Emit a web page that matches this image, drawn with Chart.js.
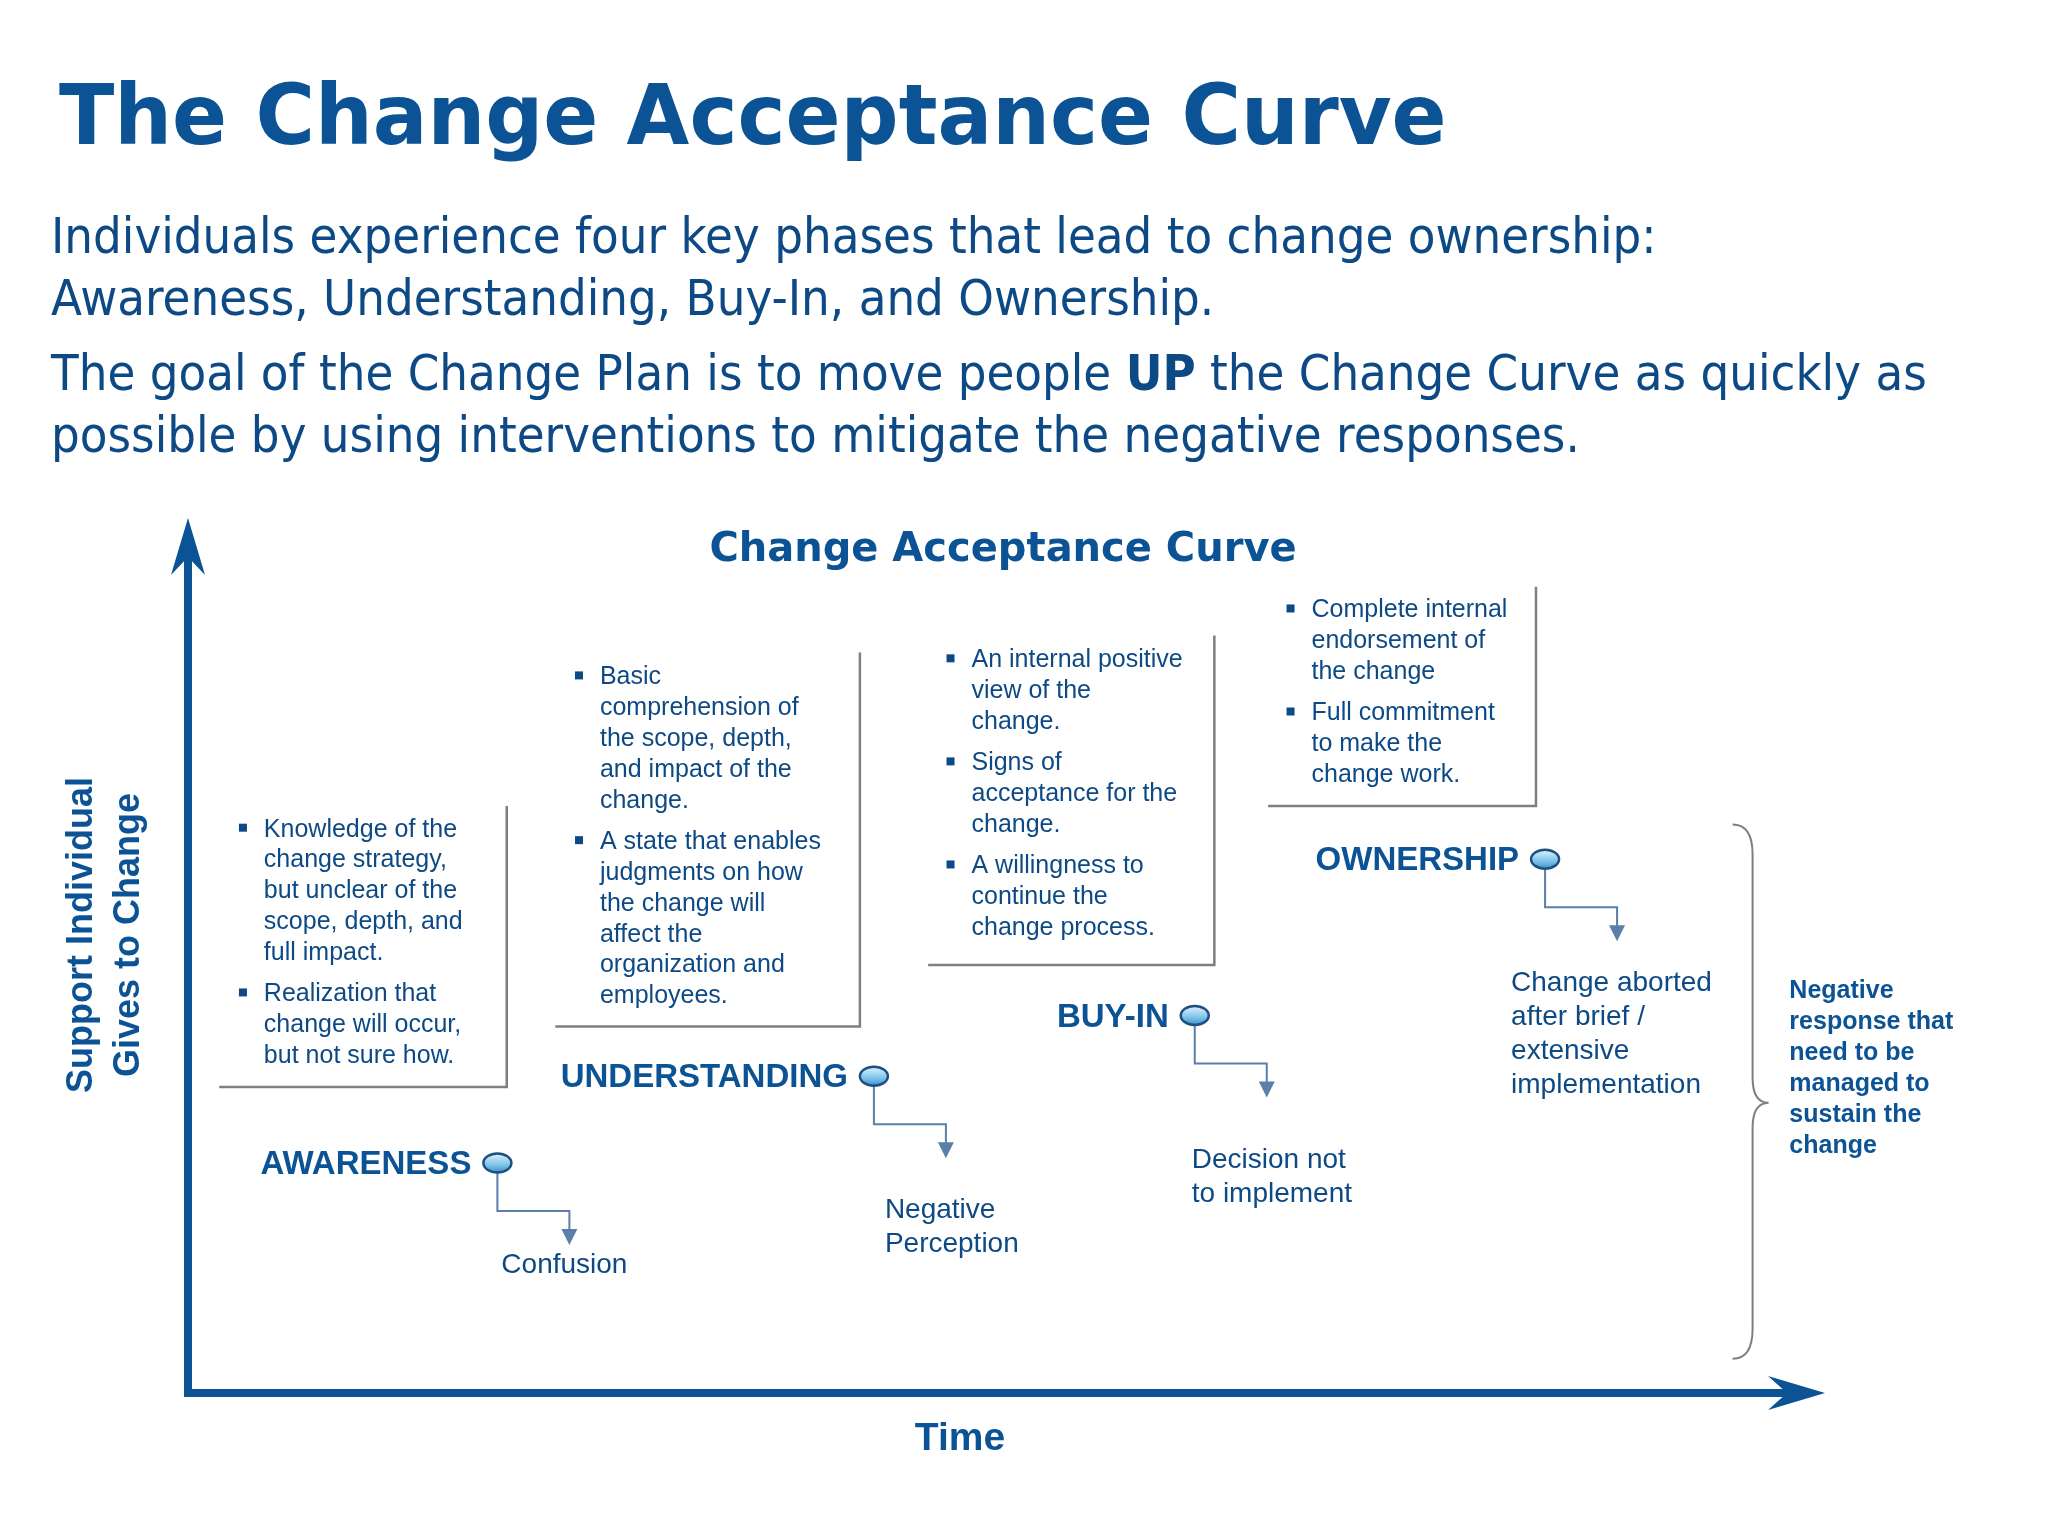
<!DOCTYPE html>
<html><head><meta charset="utf-8">
<script src="https://cdn.jsdelivr.net/npm/chart.js@4.4.1/dist/chart.umd.min.js"></script>
<style>html,body{margin:0;padding:0;background:#fff}#c{display:block}</style>
</head><body>
<canvas id="c" width="2048" height="1536"></canvas>
<script>
const phases = ["AWARENESS","UNDERSTANDING","BUY-IN","OWNERSHIP"];
const timeValues = [1.89, 4.19, 6.15, 8.29];
const supportValues = [2.65, 3.65, 4.35, 6.15];
const negatives = [["Confusion"],["Negative","Perception"],["Decision not","to implement"],["Change aborted","after brief /","extensive","implementation"]];
const boxTexts = [
 [["Knowledge of the","change strategy,","but unclear of the","scope, depth, and","full impact."],["Realization that","change will occur,","but not sure how."]],
 [["Basic","comprehension of","the scope, depth,","and impact of the","change."],["A state that enables","judgments on how","the change will","affect the","organization and","employees."]],
 [["An internal positive","view of the","change."],["Signs of","acceptance for the","change."],["A willingness to","continue the","change process."]],
 [["Complete internal","endorsement of","the change"],["Full commitment","to make the","change work."]]
];
const S = 1.3128;
const BLUE = "#0b5394", DARK="#0d4a85", GREY="#7f7f7f", CONN="#5b7fa8";
const boxes = [[167,614,828,386,201,632],[423,497,782,655,457,516],[707,484,735,925,740,503],[966,447,614,1170,999,465]];

function fitText(c,txt,x,y,targetW){
  const w=c.measureText(txt).width, f=targetW/w;
  c.save(); c.translate(x,y); c.scale(f,1); c.fillText(txt,0,0); c.restore(); return f;
}
const deco = {
 id:'deco',
 afterDraw(chart){
  const c=chart.ctx, a=chart.chartArea;
  c.save();
  c.fillStyle=BLUE; c.textBaseline='middle';
  c.font='bold 84px "DejaVu Sans", Verdana, sans-serif';
  fitText(c,"The Change Acceptance Curve",59,122,(1103-46)*S);
  c.fillStyle=DARK;
  c.font='50px "DejaVu Sans", Verdana, sans-serif';
  const l1="Individuals experience four key phases that lead to change ownership:";
  const f=(1262-39)*S/c.measureText(l1).width;
  c.save(); c.translate(51,0); c.scale(f,1);
  c.fillText(l1,0,240);
  c.fillText("Awareness, Understanding, Buy-In, and Ownership.",0,302);
  let t1="The goal of the Change Plan is to move people ";
  c.fillText(t1,0,377); let w=c.measureText(t1).width;
  c.font='bold 50px "DejaVu Sans", Verdana, sans-serif'; c.fillText("UP",w,377);
  let w2=c.measureText("UP").width;
  c.font='50px "DejaVu Sans", Verdana, sans-serif';
  c.fillText(" the Change Curve as quickly as",w+w2,377);
  c.fillText("possible by using interventions to mitigate the negative responses.",0,439);
  c.restore();
  c.fillStyle=BLUE; c.textAlign='center';
  c.font='bold 40px "DejaVu Sans", Verdana, sans-serif';
  c.fillText("Change Acceptance Curve",1003,551);
  c.font='bold 39px "Liberation Sans", Arial, sans-serif';
  c.fillText("Time",960,1439);
  c.save(); c.translate(82,935); c.rotate(-Math.PI/2);
  c.font='bold 36px "Liberation Sans", Arial, sans-serif';
  c.fillText("Support Individual",0,0); c.fillText("Gives to Change",0,47); c.restore();
  c.strokeStyle=BLUE; c.lineWidth=8; c.lineCap='butt';
  c.beginPath(); c.moveTo(a.left,a.top+20); c.lineTo(a.left,a.bottom); c.lineTo(a.right-20,a.bottom); c.stroke();
  c.fillStyle=BLUE;
  c.beginPath(); c.moveTo(a.left,a.top-7); c.lineTo(a.left+17,a.top+50); c.lineTo(a.left,a.top+32); c.lineTo(a.left-17,a.top+50); c.closePath(); c.fill();
  c.beginPath(); c.moveTo(a.right,a.bottom); c.lineTo(a.right-57,a.bottom+17); c.lineTo(a.right-38,a.bottom); c.lineTo(a.right-57,a.bottom-17); c.closePath(); c.fill();
  c.textAlign='left'; c.textBaseline='middle';
  boxes.forEach((b,i)=>{
   c.strokeStyle=GREY; c.lineWidth=2.5;
   c.beginPath(); c.moveTo(b[3]*S,b[1]*S); c.lineTo(b[3]*S,b[2]*S); c.lineTo(b[0]*S,b[2]*S); c.stroke();
   let y=b[5]*S; c.font='25px "Liberation Sans", Arial, sans-serif'; c.fillStyle=DARK;
   boxTexts[i].forEach(bul=>{
     c.fillRect((b[4]-19)*S,y-6,8,8);
     bul.forEach(l=>{c.fillText(l,b[4]*S,y); y+=23.5*S;});
     y+=8*S;
   });
  });
  const meta=chart.getDatasetMeta(0);
  meta.data.forEach((p,i)=>{
   const x=p.x,y=p.y;
   c.strokeStyle=CONN; c.lineWidth=2;
   c.beginPath(); c.moveTo(x,y); c.lineTo(x,y+48); c.lineTo(x+72,y+48); c.lineTo(x+72,y+68); c.stroke();
   c.fillStyle=CONN; c.beginPath(); c.moveTo(x+64,y+66); c.lineTo(x+80,y+66); c.lineTo(x+72,y+82); c.closePath(); c.fill();
   const g=c.createLinearGradient(0,y-10,0,y+10); g.addColorStop(0,'#e6f4fc'); g.addColorStop(0.6,'#7cc3ea'); g.addColorStop(1,'#3d8fc4');
   c.fillStyle=g; c.strokeStyle='#1f4f7f'; c.lineWidth=2.5;
   c.beginPath(); c.ellipse(x,y,14,9.5,0,0,Math.PI*2); c.fill(); c.stroke();
   c.fillStyle=BLUE; c.textAlign='right'; c.font='bold 33px "Liberation Sans", Arial, sans-serif';
   c.fillText(phases[i],x-26,y+2);
   c.fillStyle=DARK; c.font='28px "Liberation Sans", Arial, sans-serif';
   const n=negatives[i];
   if(i===0){c.textAlign='center'; c.fillText(n[0],x+67,y+102);}
   else if(i===3){c.textAlign='left'; n.forEach((l,k)=>c.fillText(l,x-34,y+124+k*34));}
   else {c.textAlign='left'; n.forEach((l,k)=>c.fillText(l,x+ (i===1?11:-3),y+(i===1?134:145)+k*34));}
  });
  c.strokeStyle=GREY; c.lineWidth=2;
  const bx=1335*S, t=628*S, bt=1035*S, m=840*S;
  c.beginPath(); c.moveTo(bx-20,t); c.quadraticCurveTo(bx,t,bx,t+30); c.lineTo(bx,m-25); c.quadraticCurveTo(bx,m,bx+16,m);
  c.moveTo(bx+16,m); c.quadraticCurveTo(bx,m,bx,m+25); c.lineTo(bx,bt-30); c.quadraticCurveTo(bx,bt,bx-20,bt); c.stroke();
  c.fillStyle=BLUE; c.textAlign='left'; c.font='bold 25px "Liberation Sans", Arial, sans-serif';
  ["Negative","response that","need to be","managed to","sustain the","change"].forEach((l,k)=>c.fillText(l,1363*S,(755+k*23.6)*S));
  c.restore();
 }
};
new Chart(document.getElementById('c'),{
 type:'scatter',
 data:{datasets:[{data:timeValues.map((v,i)=>({x:v,y:supportValues[i]})),pointRadius:0}]},
 options:{responsive:false,animation:false,
  layout:{padding:{left:188,right:223,top:525,bottom:143}},
  plugins:{legend:{display:false},tooltip:{enabled:false}},
  scales:{x:{min:0,max:10,display:false},y:{min:0,max:10,display:false}}},
 plugins:[deco]
});
</script></body></html>
